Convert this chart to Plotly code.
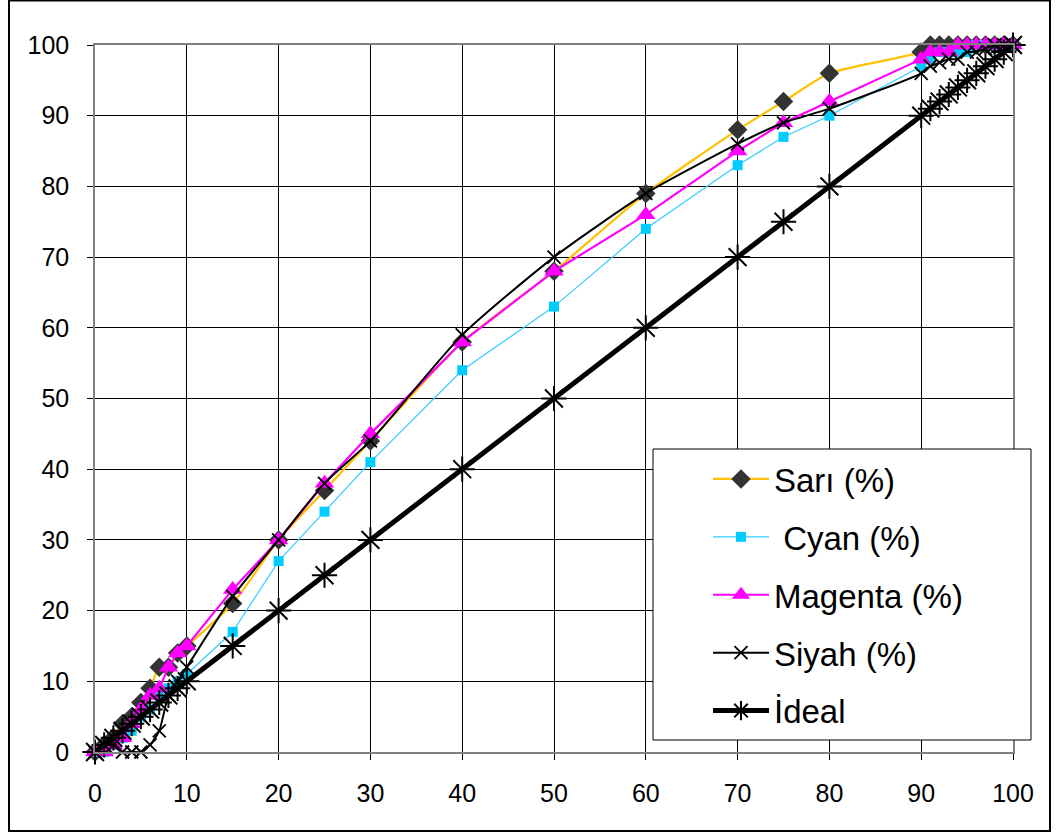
import plotly.graph_objects as go

x_vals = [0, 1, 2, 3, 4, 5, 6, 7, 8, 9, 10, 15, 20, 25, 30, 40, 50, 60, 70, 75, 80,
          90, 91, 92, 93, 94, 95, 96, 97, 98, 99, 100]
sari = [0, 1, 2, 4, 5, 7, 9, 12, 12, 14, 15, 21, 30, 37, 44, 58, 68, 79, 88, 92, 96,
        99, 100, 100, 100, 100, 100, 100, 100, 100, 100, 100]
cyan = [0, 0, 1, 2, 3, 5, 6, 8, 9, 10, 11, 17, 27, 34, 41, 54, 63, 74, 83, 87, 90,
        97, 98, 99, 99, 99, 99, 100, 100, 100, 100, 100]
magenta = [0, 0, 1, 2, 4, 6, 8, 9, 12, 14, 15, 23, 30, 38, 45, 58, 68, 76, 85, 89, 92,
           98, 99, 99, 99, 100, 100, 100, 100, 100, 100, 100]
siyah = [0, 1, 1, 0, 0, 0, 1, 3, 8, 10, 12, 22, 30, 38, 44, 59, 70, 79, 86, 89, 91,
         96, 97, 97.5, 98, 98, 99, 99, 99.5, 100, 100, 100]
ideal = list(x_vals)
tick_vals = [0, 10, 20, 30, 40, 50, 60, 70, 80, 90, 100]

W, H = 1059, 836
L, R, T, B = 95, 1013, 45, 752
pw, ph = R - L, B - T


def px(v):
    return (v - L) / pw


def py(v):
    return (B - v) / ph


fig = go.Figure()
fig.add_trace(go.Scatter(
    x=x_vals, y=sari, name="Sarı (%)", mode="lines+markers", legendgroup="a",
    line=dict(color="#FFC000", width=2.2, shape="spline", smoothing=0.6),
    marker=dict(symbol="diamond", size=15, color="#333333"), cliponaxis=False))
fig.add_trace(go.Scatter(
    x=x_vals, y=cyan, name=" Cyan (%)", mode="lines+markers", legendgroup="b",
    line=dict(color="#33CCFF", width=1.2),
    marker=dict(symbol="square", size=10, color="#00CCFF"), cliponaxis=False))
fig.add_trace(go.Scatter(
    x=x_vals, y=magenta, name="Magenta (%)", mode="lines+markers", legendgroup="c",
    line=dict(color="#FF00FF", width=2.2),
    marker=dict(symbol="triangle-up", size=17, color="#FF00FF"), cliponaxis=False))
fig.add_trace(go.Scatter(
    x=x_vals, y=siyah, name="Siyah (%)", mode="lines+markers", legendgroup="d",
    line=dict(color="#000000", width=2, shape="spline", smoothing=0.6),
    marker=dict(symbol="x-thin-open", size=13, color="#000000",
                line=dict(color="#000000", width=1.8)), cliponaxis=False))
fig.add_trace(go.Scatter(
    x=x_vals, y=ideal, name="İdeal", mode="lines+markers", legendgroup="e",
    line=dict(color="#000000", width=5),
    marker=dict(symbol="asterisk-open", size=21, color="#000000",
                line=dict(color="#000000", width=2)), cliponaxis=False))

# outer chart border
fig.add_shape(type="rect", xref="paper", yref="paper",
              x0=px(9), x1=px(1050), y0=py(831), y1=py(0.5),
              line=dict(color="#000000", width=2), fillcolor="rgba(0,0,0,0)",
              layer="below")
# legend box
fig.add_shape(type="rect", xref="paper", yref="paper",
              x0=px(653), x1=px(1031), y0=py(740), y1=py(449),
              line=dict(color="#000000", width=1), fillcolor="#FFFFFF",
              layer="above")

axis_common = dict(
    range=[0, 100], tickvals=tick_vals, showgrid=True, gridcolor="#000000",
    gridwidth=1, zeroline=False, showline=True, linecolor="#808080", linewidth=1.5,
    mirror=True, ticks="outside", ticklen=6, tickcolor="#000000",
    tickfont=dict(family="Liberation Sans, Arial", size=25, color="#000000"),
)
fig.update_xaxes(**axis_common, ticklabelstandoff=12)
fig.update_yaxes(**axis_common, ticklabelstandoff=13)

fig.update_layout(
    width=W, height=H,
    margin=dict(l=L, r=W - R, t=T, b=H - B),
    paper_bgcolor="#FFFFFF", plot_bgcolor="#FFFFFF",
    showlegend=True,
    legend=dict(
        x=px(708), y=py(451), xanchor="left", yanchor="top",
        bgcolor="rgba(0,0,0,0)", borderwidth=0,
        font=dict(family="Liberation Sans, Arial", size=33, color="#000000"),
        itemwidth=56, traceorder="grouped", tracegroupgap=12,
    ),
)

fig.write_html("out.html")
